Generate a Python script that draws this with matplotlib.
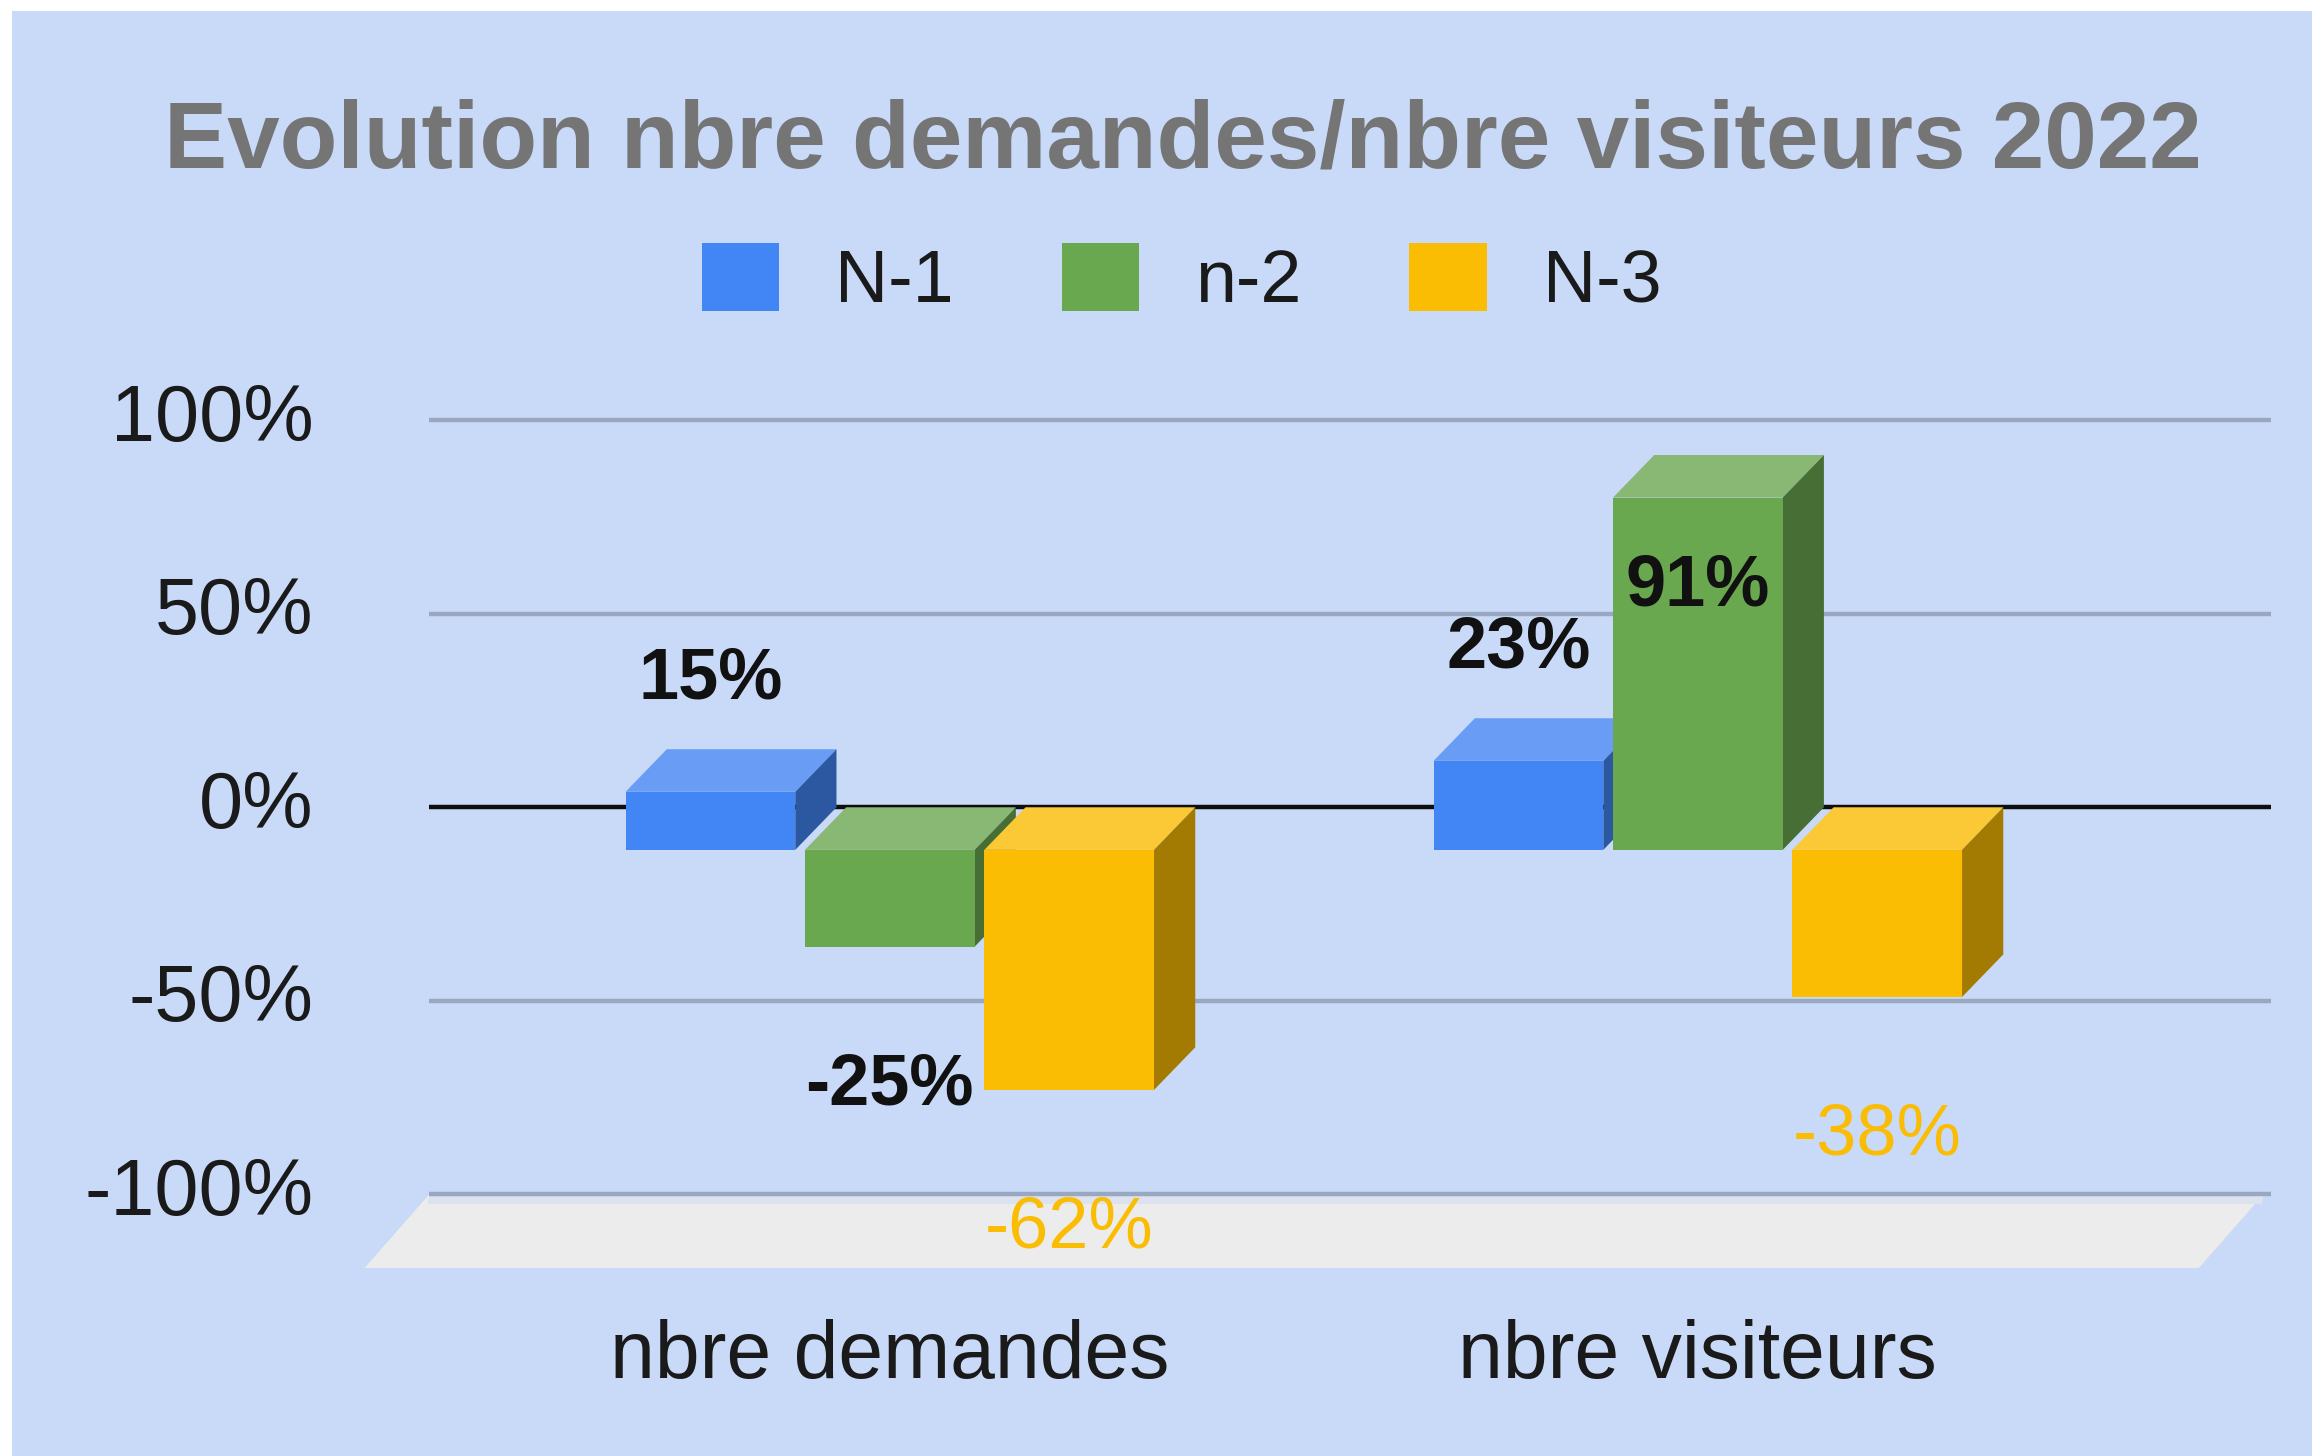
import numpy as np
import matplotlib
matplotlib.use('Agg')
import matplotlib.pyplot as plt
from matplotlib.patches import Polygon, Rectangle

plt.rcParams['font.family'] = ['Liberation Sans', 'DejaVu Sans']

categories = ['nbre demandes', 'nbre visiteurs']
series = ['N-1', 'n-2', 'N-3']
values = {
    'N-1': [15, 23],
    'n-2': [-25, 91],
    'N-3': [-62, -38],
}
yticks = [-100, -50, 0, 50, 100]
title = 'Evolution nbre demandes/nbre visiteurs 2022'

# front / top / side colours per series
front = ['#4285f4', '#6aa84f', '#fbbc04']
top = ['#699df5', '#88b873', '#fbc935']
side = ['#2c57a1', '#466e35', '#a37a02']
lab_color = ['#111111', '#111111', '#fbbc04']
lab_weight = ['bold', 'bold', 'normal']

W = 0.21      # bar width (category units)
STEP = 0.222  # distance between bars in a group
DX = 0.051    # depth, horizontal
DY = 11       # depth, vertical (percent units)

fig = plt.figure(figsize=(23.12, 14.56), dpi=100)
fig.patch.set_facecolor('white')
fig.add_artist(Rectangle((12 / 2312, 0), 1, 1 - 11 / 1456, transform=fig.transFigure,
                         facecolor='#c9daf8', edgecolor='none', zorder=0))

ax = fig.add_axes([0.1542, 0.1132, 0.8318, 0.6248])
ax.set_facecolor('none')
ax.set_xlim(-0.66, 1.72)
ax.set_ylim(-125, 110)

# floor
ax.add_patch(Polygon([(-0.57, -100), (1.70, -100), (1.62, -119), (-0.65, -119)],
                     closed=True, facecolor='#ececec', edgecolor='none', zorder=1))
ax.add_patch(Polygon([(-0.57, -100), (1.70, -100), (1.698, -102.5), (-0.572, -102.5)],
                     closed=True, facecolor='#dce3ef', edgecolor='none', zorder=1))

# gridlines
for t in yticks:
    if t == 0:
        ax.hlines(t, -0.57, 1.709, color='#0e0e0e', lw=3.2, zorder=2)
    else:
        ax.hlines(t, -0.57, 1.709, color='#9aa7c1', lw=3.2, zorder=2)

x = np.arange(len(categories))
handles = []
for i, s in enumerate(series):
    v = np.array(values[s])
    xc = x + (i - 1) * STEP
    z = 3 + i
    b = ax.bar(xc, v, bottom=-DY, width=W, color=front[i], label=s, zorder=z + 0.2)
    handles.append(b)
    for xi, vi in zip(xc, v):
        x0, x1 = xi - W / 2, xi + W / 2
        hi = max(vi, 0)
        lo = min(vi, 0)
        ax.add_patch(Polygon([(x0, hi - DY), (x1, hi - DY), (x1 + DX, hi), (x0 + DX, hi)],
                             closed=True, facecolor=top[i], edgecolor='none', zorder=z))
        ax.add_patch(Polygon([(x1, lo - DY), (x1, hi - DY), (x1 + DX, hi), (x1 + DX, lo)],
                             closed=True, facecolor=side[i], edgecolor='none', zorder=z))
        if vi >= 0:
            ly = vi + 20 if vi < 60 else vi - 32
        else:
            ly = vi - DY - 34
        ax.text(xi, ly, '%d%%' % vi, ha='center', va='center_baseline', fontsize=52,
                color=lab_color[i], fontweight=lab_weight[i], zorder=10)

ax.set_yticks(yticks)
ax.set_yticklabels(['%d%%' % t for t in yticks], fontsize=57, color='#1a1a1a', va='center')
ax.set_xticks(x)
ax.set_xticklabels(categories, fontsize=58, color='#1a1a1a')
ax.tick_params(axis='y', length=0, pad=31)
ax.tick_params(axis='x', length=0, pad=20)
for sp in ax.spines.values():
    sp.set_visible(False)

fig.text(0.5116, 1 - 133 / 1456, title, ha='center', va='center_baseline',
         fontsize=68, fontweight='bold', color='#757575')

fig.legend(handles=handles, labels=series, loc='center', bbox_to_anchor=(0.511, 1 - 280 / 1456),
           ncol=3, frameon=False, fontsize=53, handlelength=1.05, handleheight=1.05,
           handletextpad=0.76, columnspacing=1.47, labelcolor='#1a1a1a')

plt.savefig('out.png', dpi=100, facecolor=fig.get_facecolor())
